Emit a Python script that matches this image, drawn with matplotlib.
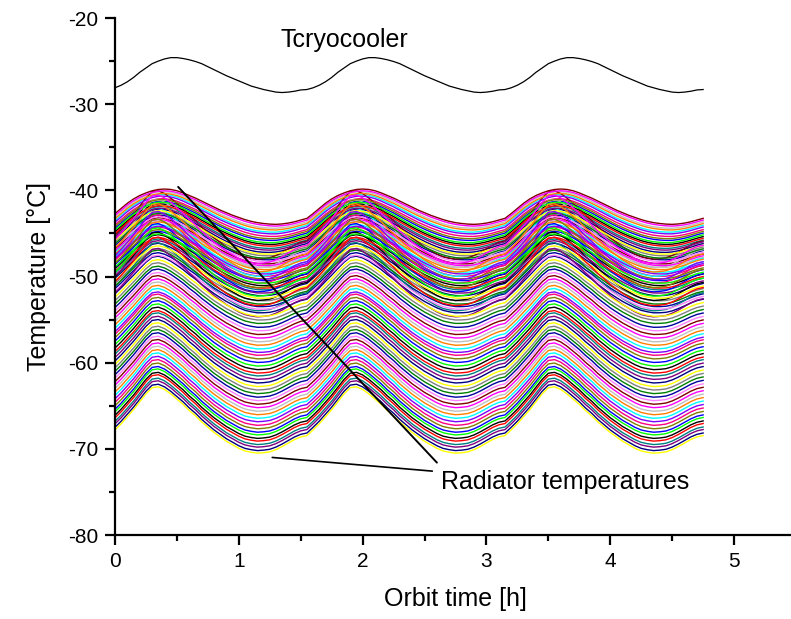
import numpy as np
import matplotlib
matplotlib.use("Agg")
import matplotlib.pyplot as plt
from matplotlib.ticker import MultipleLocator

plt.rcParams['font.family'] = ['Liberation Sans', 'DejaVu Sans']
plt.rcParams['axes.unicode_minus'] = False

step = 0.05
n_orbits = 3

# cryocooler temperature over one orbit
t_cryo = [-28.1, -27.8, -27.4, -26.9, -26.3, -25.8, -25.3, -25.0,
          -24.75, -24.6, -24.6, -24.7, -24.85, -25.05, -25.3, -25.65,
          -26.0, -26.35, -26.7, -27.0, -27.3, -27.6, -27.9, -28.1,
          -28.3, -28.45, -28.6, -28.65, -28.6, -28.5, -28.35, -28.3]

# warmest radiator curve (smooth shape)
rad_top = [-42.7, -42.1, -41.5, -41.0, -40.6, -40.3, -40.05, -39.9,
           -39.85, -39.9, -40.05, -40.3, -40.6, -40.9, -41.25, -41.6,
           -41.95, -42.3, -42.6, -42.9, -43.15, -43.4, -43.6, -43.75,
           -43.85, -43.92, -43.95, -43.9, -43.8, -43.65, -43.45, -43.25]

# coldest radiator curve (sharp shape)
rad_bottom = [-67.8, -67.1, -66.3, -65.5, -64.6, -63.7, -63.0, -62.9,
              -63.2, -63.7, -64.3, -64.9, -65.6, -66.2, -66.9, -67.5,
              -68.1, -68.6, -69.1, -69.5, -69.9, -70.2, -70.35, -70.45,
              -70.4, -70.3, -70.05, -69.7, -69.3, -68.9, -68.6, -68.45]

# start temperature (t = 0) of each radiator curve and how sharp its shape is
upper_start = [-42.7, -42.9, -43.1, -43.3, -43.5, -43.7, -44.0, -44.2,
               -44.4, -44.6, -44.8, -45.0, -45.2, -45.4, -45.6, -45.8,
               -46.0, -46.2, -46.4, -46.6, -46.8, -47.0, -47.2, -47.4,
               -47.7, -47.9, -48.1, -48.4, -48.6, -48.9, -49.1, -49.4,
               -49.6, -49.9, -50.2, -50.5, -50.8, -51.1, -51.4, -51.7]
upper_shape = [0.0, 0.0, 0.05, 0.05, 0.1, 0.1, 0.1, 0.15,
               0.15, 0.2, 0.2, 0.2, 0.25, 0.25, 0.3, 0.3,
               0.3, 0.35, 0.35, 0.35, 0.4, 0.4, 0.4, 0.45,
               0.45, 0.45, 0.5, 0.5, 0.5, 0.5, 0.55, 0.55,
               0.55, 0.6, 0.6, 0.6, 0.6, 0.65, 0.65, 0.65]
cross_start = [-45.2, -45.7, -46.2, -46.7, -47.2, -47.6, -48.0, -48.5,
               -49.0, -49.5, -50.0, -50.6, -51.2, -51.9]
lower_start = [-52.0, -52.4, -52.8, -53.2, -53.6, -54.0, -54.4, -54.8,
               -55.2, -55.6, -56.0, -56.4, -56.7, -57.1, -57.5, -57.9,
               -58.3, -58.7, -59.0, -59.4, -59.8, -60.2, -60.6, -61.0,
               -61.4, -61.8, -62.2, -62.6, -63.0, -63.4, -63.8, -64.2,
               -64.6, -65.0, -65.4, -65.7, -66.1, -66.4, -66.8, -67.1,
               -67.5, -67.8]
lower_shape = [0.7, 0.7, 0.72, 0.72, 0.75, 0.75, 0.77, 0.78,
               0.8, 0.8, 0.82, 0.82, 0.84, 0.85, 0.86, 0.87,
               0.88, 0.88, 0.9, 0.9, 0.91, 0.92, 0.92, 0.93,
               0.94, 0.94, 0.95, 0.95, 0.96, 0.96, 0.97, 0.97,
               0.98, 0.98, 0.98, 0.99, 0.99, 1.0, 1.0, 1.0,
               1.0, 1.0]

origin_colors = ['#800000', '#FF00FF', '#C0C0C0', '#FF8000', '#00FFFF',
                 '#8000FF', '#FF0080', '#808000', '#0000FF', '#00FF00',
                 '#000000', '#FF0000', '#008080', '#800080', '#000080',
                 '#FFFF00', '#808080', '#008000', '#0000A0', '#FF80FF']

time = np.arange(len(t_cryo) * n_orbits) * step
cryo = np.tile(t_cryo, n_orbits)
smooth = np.tile(np.array(rad_top) - rad_top[0], n_orbits)
sharp = np.tile(np.array(rad_bottom) - rad_bottom[0], n_orbits)

curves = []
for y0, w in zip(upper_start, upper_shape):
    curves.append(y0 + (1 - w) * smooth + w * sharp)
for y0 in cross_start:
    curves.append(y0 + 1.05 * sharp)
for y0, w in zip(lower_start, lower_shape):
    curves.append(y0 + 1.02 * ((1 - w) * smooth + w * sharp))

# draw in a mixed order, like the columns of the original worksheet
order = list(range(0, len(curves), 2)) + list(range(1, len(curves), 2))

fig = plt.figure(figsize=(7.91, 6.19), dpi=100)
ax = fig.add_axes([115 / 791, 1 - 535 / 619, 681 / 791, 517 / 619])

for i in order:
    ax.plot(time, curves[i], color=origin_colors[i % len(origin_colors)], lw=1.0)
ax.plot(time, cryo, color='black', lw=0.9)

ax.set_xlim(0, 5.5)
ax.set_ylim(-80, -20)
ax.xaxis.set_major_locator(MultipleLocator(1))
ax.xaxis.set_minor_locator(MultipleLocator(0.5))
ax.yaxis.set_major_locator(MultipleLocator(10))
ax.yaxis.set_minor_locator(MultipleLocator(5))
ax.spines['top'].set_visible(False)
ax.spines['right'].set_visible(False)
ax.spines['left'].set_linewidth(1.6)
ax.spines['bottom'].set_linewidth(1.6)
ax.tick_params(which='major', direction='out', length=7, width=1.6, labelsize=15, pad=5)
ax.tick_params(which='minor', direction='out', length=4, width=1.6)

ax.set_xlabel('Orbit time [h]', fontsize=18, labelpad=12)
ax.set_ylabel('Temperature [°C]', fontsize=18, labelpad=12)

ax.text(1.34, -22.6, 'Tcryocooler', fontsize=18, va='center', ha='left')
ax.annotate('Radiator temperatures', xy=(1.27, -71.0), xytext=(2.63, -73.9),
            fontsize=18, va='center', ha='left',
            arrowprops=dict(arrowstyle='-', color='black', lw=1.2, shrinkA=4, shrinkB=0))
ax.annotate('', xy=(0.51, -39.6), xytext=(2.6, -71.6),
            arrowprops=dict(arrowstyle='-', color='black', lw=1.4, shrinkA=0, shrinkB=0))

fig.savefig('out.png', dpi=100)
